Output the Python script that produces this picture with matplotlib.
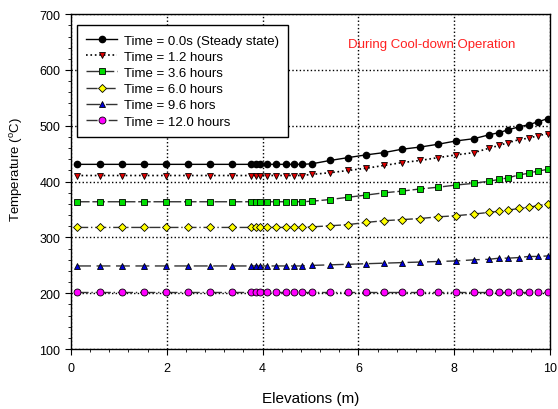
import matplotlib
matplotlib.use('Agg')
import matplotlib.pyplot as plt
from matplotlib.ticker import MultipleLocator

plt.rcParams['font.family'] = ['Liberation Sans', 'DejaVu Sans']
plt.rcParams['mathtext.default'] = 'regular'

# elevation (m) of measurement points, same for every series
elev = [0.13, 0.6, 1.06, 1.52, 1.98, 2.44, 2.9, 3.37, 3.76, 3.87, 3.94, 4.1,
        4.29, 4.48, 4.66, 4.82, 5.03, 5.41, 5.78, 6.16, 6.53, 6.9, 7.29, 7.66,
        8.04, 8.41, 8.73, 8.94, 9.13, 9.34, 9.55, 9.74, 9.95]

t00 = [431]*16 + [432, 438, 443, 448, 452, 458, 462, 467, 473, 477, 484, 488,
                  493, 498, 502, 507, 513]
t12 = [411]*16 + [413, 416, 420, 424, 429, 434, 438, 443, 448, 452, 460, 465,
                  470, 475, 478, 482, 486]
t36 = [364]*16 + [365, 368, 372, 376, 380, 383, 387, 390, 394, 397, 401, 404,
                  407, 412, 415, 419, 422]
t60 = [318]*16 + [319, 321, 323, 327, 330, 332, 334, 337, 339, 342, 345, 347,
                  349, 352, 354, 357, 360]
t96 = [249]*16 + [250, 251, 252, 253, 254, 255, 256, 257, 258, 260, 261, 263,
                  263, 264, 266, 266, 267]
t120 = [203]*33

labels = ['Time = 0.0s (Steady state)', 'Time = 1.2 hours', 'Time = 3.6 hours',
          'Time = 6.0 hours', 'Time = 9.6 hors', 'Time = 12.0 hours']

fig = plt.figure(figsize=(5.58, 4.10), dpi=100)
ax = fig.add_axes([0.127, 0.146, 0.859, 0.817])

ax.plot(elev, t00, '-', color='black', lw=1, marker='o', ms=4.5,
        mfc='black', mec='black', label=labels[0])
ax.plot(elev, t12, ':', color='black', lw=1.2, marker='v', ms=5,
        mfc='#e00000', mec='black', mew=0.6, label=labels[1])
ax.plot(elev, t36, color='#333333', ls=(0, (9, 2)), lw=1, marker='s', ms=4.5,
        mfc='#00dd00', mec='black', mew=0.6, label=labels[2])
ax.plot(elev, t60, color='#333333', ls=(0, (8, 2, 1, 2)), lw=1, marker='D', ms=4,
        mfc='#ffff00', mec='black', mew=0.6, label=labels[3])
ax.plot(elev, t96, color='#333333', ls=(0, (10, 4)), lw=1, marker='^', ms=5,
        mfc='#0000dd', mec='black', mew=0.6, label=labels[4])
ax.plot(elev, t120, color='#333333', ls=(0, (8, 2, 1, 2, 1, 2)), lw=1, marker='o', ms=5,
        mfc='#ff00ff', mec='black', mew=0.6, label=labels[5])

ax.set_xlim(0, 10)
ax.set_ylim(100, 700)
ax.xaxis.set_major_locator(MultipleLocator(2))
ax.xaxis.set_minor_locator(MultipleLocator(0.4))
ax.yaxis.set_major_locator(MultipleLocator(100))
ax.yaxis.set_minor_locator(MultipleLocator(20))
ax.tick_params(which='both', direction='out', top=False, right=False,
               labelsize=9, colors='black')
ax.tick_params(which='major', length=4)
ax.tick_params(which='minor', length=2.5)
ax.tick_params(axis='x', pad=5)
ax.grid(True, which='major', ls=':', color='black', lw=1)
for s in ax.spines.values():
    s.set_linewidth(1)

ax.set_xlabel('Elevations (m)', fontsize=11, va='center')
ax.xaxis.set_label_coords(0.5, -0.146)
ax.set_ylabel('Temperature ($^{o}$C)', fontsize=9.5, va='center', ha='center')
ax.yaxis.set_label_coords(-0.113, 0.54)

ax.text(7.52, 646, 'During Cool-down Operation', color='#ff2020', fontsize=9.5,
        ha='center', va='center')

leg = ax.legend(loc='upper left', bbox_to_anchor=(0.0125, 0.967), borderaxespad=0,
                fontsize=9.5, frameon=True, fancybox=False, framealpha=1,
                edgecolor='black', handlelength=2.35, handletextpad=0.5,
                labelspacing=0.3, borderpad=0.7)
leg.get_frame().set_linewidth(1)

fig.savefig('out.png', dpi=100)
